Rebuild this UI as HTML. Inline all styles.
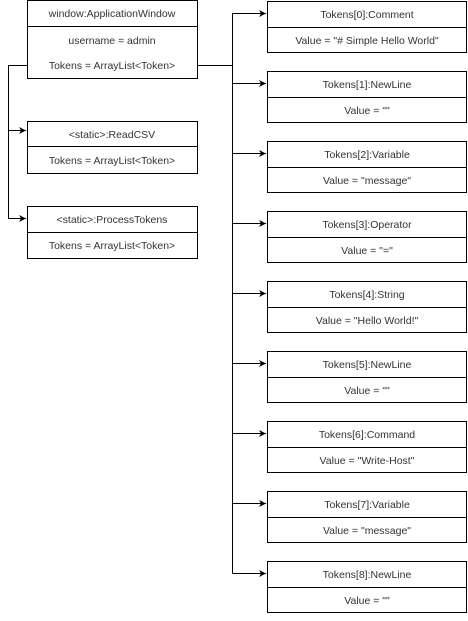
<!DOCTYPE html>
<html><head><style>
html,body{margin:0;padding:0;background:#fff;}
svg text{font-family:"Liberation Sans",sans-serif;font-size:10.5px;fill:#333;text-anchor:middle;}
</style></head><body>
<svg width="468" height="616" xmlns="http://www.w3.org/2000/svg">
<defs><marker id="a" markerWidth="8" markerHeight="8" refX="7" refY="4" orient="auto" markerUnits="userSpaceOnUse"><path d="M0,0.5 L7,4 L0,7.5 L2,4 Z" fill="#000"/></marker></defs>
<g fill="none" stroke="#000" stroke-width="1">
<rect x="27.5" y="0.5" width="170" height="78"/>
<line x1="27.5" y1="26.5" x2="197.5" y2="26.5"/>
<rect x="27.5" y="121.5" width="170" height="52"/>
<line x1="27.5" y1="146.5" x2="197.5" y2="146.5"/>
<rect x="27.5" y="206.5" width="170" height="52"/>
<line x1="27.5" y1="232.5" x2="197.5" y2="232.5"/>
<path d="M27.5,65.5 H8.5 V130.5 H26" marker-end="url(#a)"/>
<path d="M8.5,130.5 V218.5 H26" marker-end="url(#a)"/>
<path d="M197.5,65.5 H232.5"/>
<path d="M232.5,13.5 V573.5"/>
</g>
<text x="112" y="17">window:ApplicationWindow</text>
<text x="112" y="44">username = admin</text>
<text x="112" y="69">Tokens = ArrayList&lt;Token&gt;</text>
<text x="112" y="138">&lt;static&gt;:ReadCSV</text>
<text x="112" y="164">Tokens = ArrayList&lt;Token&gt;</text>
<text x="112" y="223">&lt;static&gt;:ProcessTokens</text>
<text x="112" y="249">Tokens = ArrayList&lt;Token&gt;</text>
<g id="boxes"></g>
<g fill="none" stroke="#000">
<rect x="267.5" y="1.5" width="199" height="51"/><line x1="267.5" y1="27.5" x2="466.5" y2="27.5"/><path d="M232.5,13.5 H266" marker-end="url(#a)"/>
<rect x="267.5" y="71.5" width="199" height="51"/><line x1="267.5" y1="97.5" x2="466.5" y2="97.5"/><path d="M232.5,83.5 H266" marker-end="url(#a)"/>
<rect x="267.5" y="141.5" width="199" height="51"/><line x1="267.5" y1="167.5" x2="466.5" y2="167.5"/><path d="M232.5,153.5 H266" marker-end="url(#a)"/>
<rect x="267.5" y="211.5" width="199" height="51"/><line x1="267.5" y1="237.5" x2="466.5" y2="237.5"/><path d="M232.5,223.5 H266" marker-end="url(#a)"/>
<rect x="267.5" y="281.5" width="199" height="51"/><line x1="267.5" y1="307.5" x2="466.5" y2="307.5"/><path d="M232.5,293.5 H266" marker-end="url(#a)"/>
<rect x="267.5" y="351.5" width="199" height="51"/><line x1="267.5" y1="377.5" x2="466.5" y2="377.5"/><path d="M232.5,363.5 H266" marker-end="url(#a)"/>
<rect x="267.5" y="421.5" width="199" height="51"/><line x1="267.5" y1="447.5" x2="466.5" y2="447.5"/><path d="M232.5,433.5 H266" marker-end="url(#a)"/>
<rect x="267.5" y="491.5" width="199" height="51"/><line x1="267.5" y1="517.5" x2="466.5" y2="517.5"/><path d="M232.5,503.5 H266" marker-end="url(#a)"/>
<rect x="267.5" y="561.5" width="199" height="51"/><line x1="267.5" y1="587.5" x2="466.5" y2="587.5"/><path d="M232.5,573.5 H266" marker-end="url(#a)"/>
</g>
<text x="367" y="18">Tokens[0]:Comment</text><text x="367" y="44">Value = "# Simple Hello World"</text>
<text x="367" y="88">Tokens[1]:NewLine</text><text x="367" y="114">Value = ""</text>
<text x="367" y="158">Tokens[2]:Variable</text><text x="367" y="184">Value = "message"</text>
<text x="367" y="228">Tokens[3]:Operator</text><text x="367" y="254">Value = "="</text>
<text x="367" y="298">Tokens[4]:String</text><text x="367" y="324">Value = "Hello World!"</text>
<text x="367" y="368">Tokens[5]:NewLine</text><text x="367" y="394">Value = ""</text>
<text x="367" y="438">Tokens[6]:Command</text><text x="367" y="464">Value = "Write-Host"</text>
<text x="367" y="508">Tokens[7]:Variable</text><text x="367" y="534">Value = "message"</text>
<text x="367" y="578">Tokens[8]:NewLine</text><text x="367" y="604">Value = ""</text>
</svg>
</body></html>
